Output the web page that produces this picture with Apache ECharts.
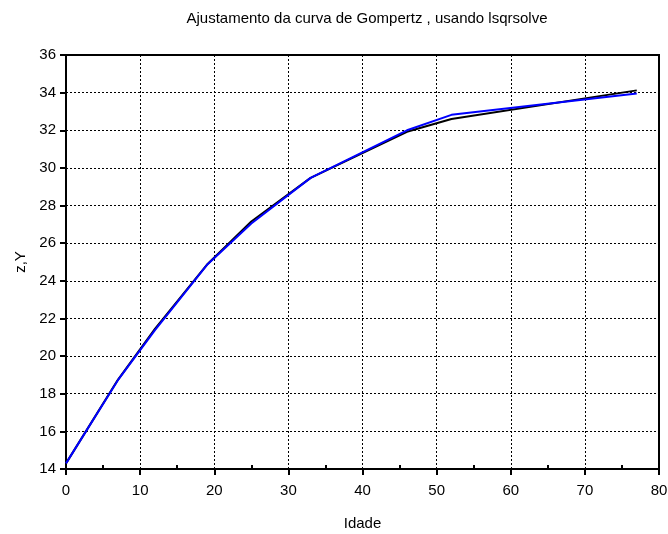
<!DOCTYPE html>
<html>
<head>
<meta charset="utf-8">
<script src="https://cdn.jsdelivr.net/npm/echarts@6/dist/echarts.min.js"></script>
<style>
html,body{margin:0;padding:0;background:#fff;}
#chart{width:668px;height:534px;}
</style>
</head>
<body>
<div id="chart"></div>
<script>
// Data
const idade = [0, 7, 12, 19, 25, 33, 46, 52, 77];
const observado = [14.3, 18.74, 21.45, 24.85, 27.15, 29.47, 31.92, 32.6, 34.12];
const ajustado = [14.3, 18.72, 21.38, 24.84, 27.05, 29.47, 32.0, 32.82, 33.95];
const minorTickValues = [5, 15, 25, 35, 45, 55, 65, 75];
const titleText = 'Ajustamento da curva de Gompertz , usando lsqrsolve';
const xName = 'Idade';
const yName = 'z,Y';

const font = 'Liberation Sans, Arial, sans-serif';
const chart = echarts.init(document.getElementById('chart'), null, {renderer: 'canvas'});
const pair = (xs, ys) => xs.map((x, i) => [x, ys[i]]);

chart.setOption({
  animation: false,
  backgroundColor: '#fff',
  title: {
    text: titleText,
    left: 362, textAlign: 'center', top: 6,
    textStyle: {fontFamily: font, fontSize: 15, fontWeight: 'normal', color: '#000'}
  },
  grid: {
    left: 66, right: 9, top: 55, bottom: 65,
    outerBoundsMode: 'none', containLabel: false,
    show: true, borderColor: '#000', borderWidth: 2, backgroundColor: 'transparent'
  },
  xAxis: [{
    type: 'value', min: 0, max: 80, interval: 10,
    name: xName, nameLocation: 'middle', nameGap: 47,
    nameTextStyle: {fontFamily: font, fontSize: 15, color: '#000'},
    axisLine: {show: true, lineStyle: {color: '#000', width: 2}},
    axisTick: {show: true, inside: false, length: 6, lineStyle: {color: '#000', width: 2}},
    axisLabel: {fontFamily: font, fontSize: 15, color: '#000', margin: 14},
    splitLine: {show: true, lineStyle: {color: '#000', type: [2, 2], width: 1}}
  }, {
    type: 'value', min: 0, max: 80, position: 'bottom',
    axisLine: {show: false},
    axisLabel: {show: false},
    splitLine: {show: false},
    axisTick: {show: true, inside: true, length: 4, customValues: minorTickValues,
      lineStyle: {color: '#000', width: 2}}
  }],
  yAxis: {
    type: 'value', min: 14, max: 36, interval: 2,
    name: yName, nameLocation: 'middle', nameGap: 38, nameRotate: 90,
    nameTextStyle: {fontFamily: font, fontSize: 15, color: '#000'},
    axisLine: {show: true, lineStyle: {color: '#000', width: 2}},
    axisTick: {show: true, inside: false, length: 6, lineStyle: {color: '#000', width: 2}},
    axisLabel: {fontFamily: font, fontSize: 15, color: '#000', margin: 10},
    splitLine: {show: true, lineStyle: {color: '#000', type: [2, 2], width: 1}}
  },
  series: [{
    type: 'line', data: pair(idade, observado), symbol: 'none',
    lineStyle: {color: '#000', width: 2}, z: 2
  }, {
    type: 'line', data: pair(idade, ajustado), symbol: 'none',
    lineStyle: {color: '#0000ff', width: 2}, z: 3
  }]
});
</script>
</body>
</html>
